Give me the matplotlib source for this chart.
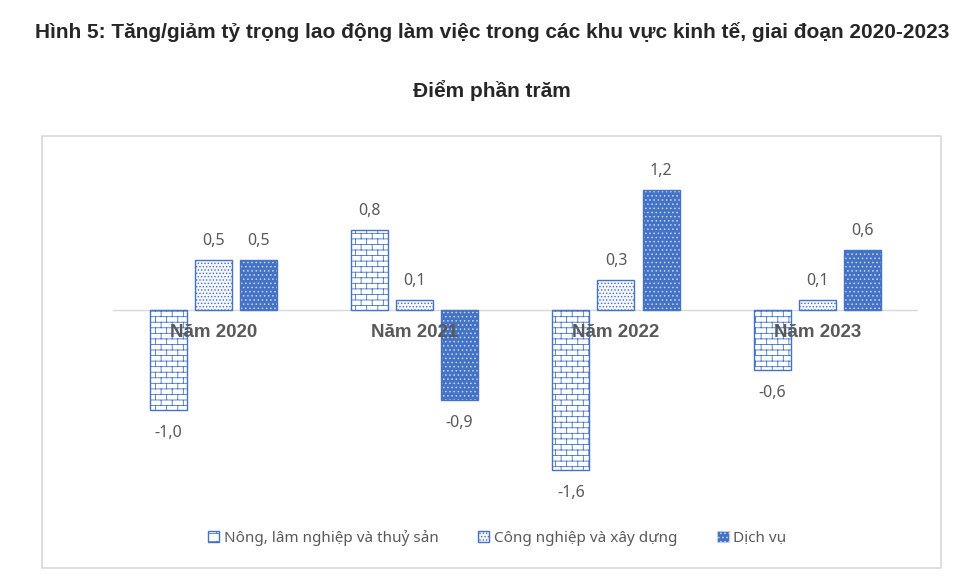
import warnings
import numpy as np
import matplotlib
matplotlib.use("Agg")
import matplotlib.pyplot as plt
from matplotlib import hatch as mhatch
from matplotlib.path import Path
from matplotlib.patches import Rectangle, Patch

warnings.filterwarnings("ignore")

# ---------------- data ----------------
categories = ["Năm 2020", "Năm 2021", "Năm 2022", "Năm 2023"]
series_names = ["Nông, lâm nghiệp và thuỷ sản", "Công nghiệp và xây dựng", "Dịch vụ"]
nong_lam = [-1.0, 0.8, -1.6, -0.6]
cong_nghiep = [0.5, 0.1, 0.3, 0.1]
dich_vu = [0.5, -0.9, 1.2, 0.6]
title = "Hình 5: Tăng/giảm tỷ trọng lao động làm việc trong các khu vực kinh tế, giai đoạn 2020-2023"
subtitle = "Điểm phần trăm"


# ---------------- custom brick hatch ----------------
class BrickHatch(mhatch.HatchPatternBase):
    def __init__(self, hatch, density):
        self.num_rows = hatch.count('b') * density
        self.bricks = max(self.num_rows // 2, 1)
        if self.num_rows:
            self.num_vertices = (self.num_rows + 1) * 2 + self.num_rows * (self.bricks + 1) * 2
        else:
            self.num_vertices = 0

    def set_vertices_and_codes(self, vertices, codes):
        n = self.num_rows
        k = 0
        for i in range(n + 1):
            y = i / n
            vertices[k] = (0, y); codes[k] = Path.MOVETO; k += 1
            vertices[k] = (1, y); codes[k] = Path.LINETO; k += 1
        for i in range(n):
            y0, y1 = i / n, (i + 1) / n
            off = 0.5 / self.bricks if i % 2 else 0.0
            for j in range(self.bricks + 1):
                xx = j / self.bricks + off
                if xx > 1:
                    xx -= 1
                vertices[k] = (xx, y0); codes[k] = Path.MOVETO; k += 1
                vertices[k] = (xx, y1); codes[k] = Path.LINETO; k += 1


mhatch._hatch_types.append(BrickHatch)
try:
    mhatch._validate_hatch_pattern = lambda h: None
except Exception:
    pass

plt.rcParams['font.family'] = ['Liberation Sans', 'DejaVu Sans']
plt.rcParams['hatch.linewidth'] = 0.6

BLUE = "#4472C4"
GRAY = "#595959"

W, H = 964, 583
fig = plt.figure(figsize=(W / 100, H / 100), dpi=100)

# outer border box
fig.patches.append(Rectangle((42 / W, 1 - 568 / H), (941 - 42) / W, (568 - 136) / H,
                             transform=fig.transFigure, fill=False,
                             edgecolor="#D9D9D9", linewidth=1.2, zorder=0))

fig.text(492 / W, 1 - 32 / H, title, ha="center", va="center",
         fontsize=15, fontweight="bold", color="#262626")
fig.text(492 / W, 1 - 91 / H, subtitle, ha="center", va="center",
         fontsize=15, fontweight="bold", color="#262626")

ylo, yhi = -2.1, 1.7
top_px, bot_px = 310 - yhi * 100, 310 - ylo * 100
ax = fig.add_axes([112.5 / W, 1 - bot_px / H, (918 - 112.5) / W, (bot_px - top_px) / H])
ax.set_xlim(-0.5, len(categories) - 0.5)
ax.set_ylim(ylo, yhi)
ax.axis("off")
ax.axhline(0, color="#D9D9D9", linewidth=1.0, zorder=1)

x = np.arange(len(categories))
bw = 0.184
step = 0.224

b1 = ax.bar(x - step, nong_lam, bw, facecolor="white", edgecolor=BLUE,
            hatch="bbb", linewidth=1.0, zorder=2)
b2 = ax.bar(x, cong_nghiep, bw, facecolor="#F4F6FB", edgecolor=BLUE,
            hatch=".....", linewidth=1.0, zorder=2)
b3 = ax.bar(x + step, dich_vu, bw, facecolor=BLUE, edgecolor="#C9D6EE",
            hatch="....", linewidth=0, zorder=2)
ax.bar(x + step, dich_vu, bw, facecolor="none", edgecolor=BLUE,
       linewidth=1.0, zorder=3)

label_font = ['Noto Sans', 'DejaVu Sans']
for offs, vals in ((-step, nong_lam), (0, cong_nghiep), (step, dich_vu)):
    for xi, v in zip(x, vals):
        dy = 13.5 if v >= 0 else -16.5
        ax.annotate(f"{v:.1f}".replace(".", ","), (xi + offs, v),
                    xytext=(0, dy), textcoords="offset points",
                    ha="center", va="center", fontsize=11.5, color=GRAY,
                    family=label_font)

for xi, c in zip(x, categories):
    ax.annotate(c, (xi, 0), xytext=(0, -16), textcoords="offset points",
                ha="center", va="center", fontsize=13.5, fontweight="bold",
                color=GRAY, zorder=5)

handles = [
    Patch(facecolor="white", edgecolor=BLUE, hatch="bb", linewidth=1.0),
    Patch(facecolor="#F4F6FB", edgecolor=BLUE, hatch=".....", linewidth=1.0),
    Patch(facecolor=BLUE, edgecolor="#C9D6EE", hatch="....", linewidth=0.5),
]
leg = fig.legend(handles, series_names, loc="center", bbox_to_anchor=(497 / W, 1 - 538 / H),
                 ncol=3, frameon=False, handlelength=0.75, handleheight=0.75,
                 handletextpad=0.3, columnspacing=2.6,
                 prop={'family': label_font, 'size': 11})
for t in leg.get_texts():
    t.set_color(GRAY)

fig.savefig("out.png", dpi=100)
